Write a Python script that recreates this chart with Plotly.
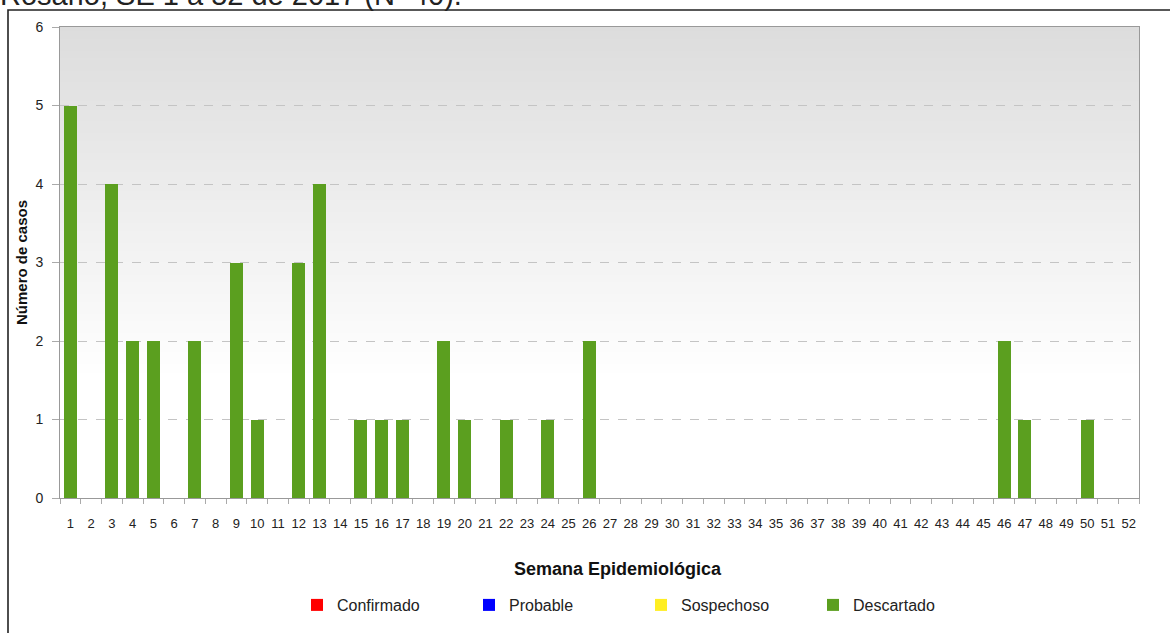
import plotly.graph_objects as go

weeks = [str(i) for i in range(1, 53)]
descartado_weeks = [1, 3, 4, 5, 7, 9, 10, 12, 13, 15, 16, 17, 19, 20, 22, 24, 26, 46, 47, 50]
descartado_vals = [5, 4, 2, 2, 2, 3, 1, 3, 4, 1, 1, 1, 2, 1, 1, 1, 2, 2, 1, 1]
confirmado = [0] * 52
probable = [0] * 52
sospechoso = [0] * 52
descartado = [0] * 52
for w, v in zip(descartado_weeks, descartado_vals):
    descartado[w - 1] = v

series_names = ["Confirmado", "Probable", "Sospechoso", "Descartado"]
series_vals = [confirmado, probable, sospechoso, descartado]
series_colors = ["#ff0000", "#0000ff", "#ffee22", "#5b9f1f"]

title_text = "Rosario, SE 1 a 52 de 2017 (N=40)."

W, H = 1170, 633
L, R, T, B = 60, 31, 27, 135
PW = W - L - R
PH = H - T - B


def px_x(x):
    return (x - L) / PW


def px_y(y):
    return (H - B - y) / PH


fig = go.Figure()
for name, vals, col in zip(series_names, series_vals, series_colors):
    fig.add_trace(go.Bar(
        x=weeks, y=vals, name=name, marker=dict(color=col, line=dict(width=0)),
        width=0.62, hoverinfo="x+y+name",
    ))

shapes = []
# gradient background: overlapping bands (no seams)
n = 120
for i in range(n):
    y0 = i / n
    t = max(0.0, (y0 - 0.25) / 0.75)
    c = round(255 - 35 * t)
    shapes.append(dict(type="rect", xref="paper", yref="paper", x0=0, x1=1, y0=y0, y1=1,
                       fillcolor=f"rgb({c},{c},{c})", line=dict(width=0), layer="below"))
# outer frame
shapes.append(dict(type="rect", xref="paper", yref="paper",
                   x0=px_x(8), x1=px_x(1250), y0=px_y(10), y1=px_y(700),
                   line=dict(color="#222222", width=1.6), fillcolor="rgba(0,0,0,0)", layer="above"))

fig.update_layout(
    width=W, height=H,
    margin=dict(l=L, r=R, t=T, b=B, autoexpand=False),
    paper_bgcolor="white",
    plot_bgcolor="rgba(0,0,0,0)",
    barmode="stack",
    bargap=0.38,
    font=dict(family="Liberation Sans, Arial, sans-serif", color="#222222", size=13),
    shapes=shapes,
    showlegend=True,
    legend=dict(
        orientation="h", x=px_x(297), y=px_y(605), xanchor="left", yanchor="middle",
        font=dict(size=16, color="#222222"), itemwidth=30,
        entrywidth=127, entrywidthmode="pixels", bgcolor="rgba(0,0,0,0)",
        traceorder="normal", itemclick=False,
    ),
    annotations=[
        dict(text=title_text, xref="paper", yref="paper", x=px_x(-2), y=px_y(9),
             xanchor="left", yanchor="bottom", showarrow=False,
             font=dict(size=29, color="#222222"), yshift=-4),
        dict(text="<b>Semana Epidemiológica</b>", xref="paper", yref="paper",
             x=px_x(618), y=px_y(569), xanchor="center", yanchor="middle",
             showarrow=False, font=dict(size=18, color="#111111")),
    ],
)

fig.update_xaxes(
    type="category", categoryorder="array", categoryarray=weeks,
    tickson="boundaries", ticks="outside", ticklen=5, tickcolor="#aaaaaa",
    showline=True, linecolor="#999999", linewidth=1, mirror=True,
    showgrid=False, tickfont=dict(size=13, color="#222222"),
    tickangle=0, ticklabelstandoff=13,
)
fig.update_yaxes(
    range=[0, 6], dtick=1, tick0=0, ticks="outside", ticklen=7, tickcolor="#aaaaaa",
    showline=True, linecolor="#999999", linewidth=1, mirror=True,
    showgrid=True, gridcolor="#c4c4c4", griddash="dash", gridwidth=1,
    zeroline=False, tickfont=dict(size=14, color="#222222"), ticklabelstandoff=6,
    title=dict(text="<b>Número de casos</b>", font=dict(size=15, color="#111111"), standoff=4),
)

fig.write_html("out.html", config={"displayModeBar": False},
               post_script="document.body.style.margin='0';")
